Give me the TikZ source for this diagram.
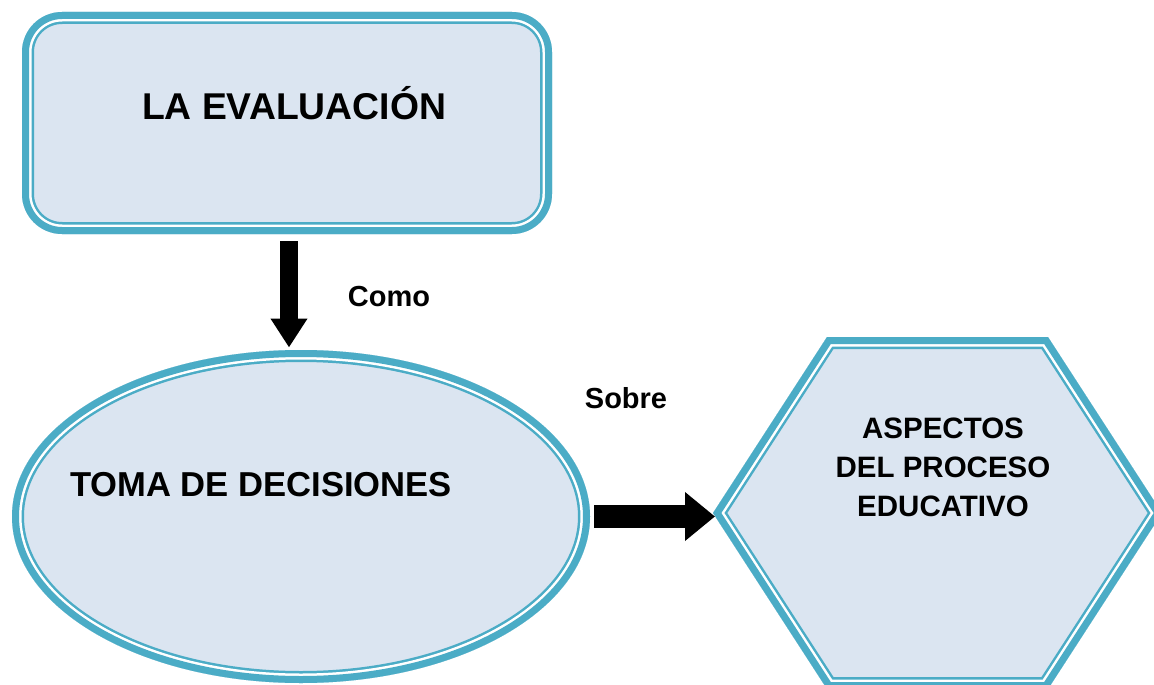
\documentclass[tikz,border=0pt]{standalone}
\usepackage{fontspec}
\setmainfont{Liberation Sans}
\usetikzlibrary{shapes.geometric,arrows.meta}
\definecolor{teal1}{HTML}{4BACC6}
\definecolor{bgfill}{HTML}{DBE5F1}
\tikzset{
  shapebox/.style={inner sep=0pt, outer sep=0pt, draw=none},
  lbl/.style={inner sep=0pt, anchor=base, font=\bfseries},
  blockarrow/.style={draw=black, line cap=butt},
}
\newcommand{\ringlayers}[1]{%
  \fill[bgfill] #1;
  \draw[teal1, line width=24pt] #1;
  \draw[white, line width=19pt] #1;
  \draw[teal1, line width=14pt] #1;
}
\begin{document}
\begin{tikzpicture}[x=1pt,y=-1pt]
\useasboundingbox (0,0) rectangle (1154,685);
\clip (0,0) rectangle (1154,685);
% nodes (geometry holders)
\node[shapebox, rectangle, minimum width=530pt, minimum height=222pt] (eval) at (287,123) {};
\node[shapebox, ellipse, minimum width=578pt, minimum height=332pt] (toma) at (301,516.5) {};
\node[shapebox, rectangle, minimum width=449pt, minimum height=352pt] (hex) at (937.5,513) {};
% rounded rectangle
\begin{scope}
  \clip[rounded corners=40pt] (eval.south west) rectangle (eval.north east);
  \ringlayers{[rounded corners=40pt] (eval.south west) rectangle (eval.north east)}
\end{scope}
% ellipse
\begin{scope}
  \clip (toma.center) ellipse [x radius=289pt, y radius=166.5pt];
  \ringlayers{(toma.center) ellipse [x radius=289pt, y radius=166.5pt]}
\end{scope}
% hexagon
\begin{scope}
  \clip (hex.west) -- ([xshift=114pt]hex.north west) -- ([xshift=-114pt]hex.north east) -- (hex.east) -- ([xshift=-114pt]hex.south east) -- ([xshift=114pt]hex.south west) -- cycle;
  \ringlayers{(hex.west) -- ([xshift=114pt]hex.north west) -- ([xshift=-114pt]hex.north east) -- (hex.east) -- ([xshift=-114pt]hex.south east) -- ([xshift=114pt]hex.south west) -- cycle}
\end{scope}
% texts
\node[lbl, font=\bfseries\fontsize{37.3}{40}\selectfont] (t1) at (294,119.3) {LA EVALUACIÓN};
\node[lbl, font=\bfseries\fontsize{34.6}{40}\selectfont] (t2) at (261,496.7) {TOMA DE DECISIONES};
\node[lbl, font=\bfseries\fontsize{29}{32}\selectfont] (como) at (389,306.7) {Como};
\node[lbl, font=\bfseries\fontsize{29}{32}\selectfont] (sobre) at (626,408.3) {Sobre};
\node[lbl, font=\bfseries\fontsize{29.5}{32}\selectfont] (h1) at (943,438.3) {ASPECTOS};
\node[lbl, font=\bfseries\fontsize{29.5}{32}\selectfont] (h2) at (943,477) {DEL PROCESO};
\node[lbl, font=\bfseries\fontsize{29.5}{32}\selectfont] (h3) at (943,516.7) {EDUCATIVO};
% connectors
\coordinate (a1s) at ([xshift=2pt,yshift=-7pt]eval.south);
\coordinate (a1e) at (a1s |- toma.north);
\draw[blockarrow, line width=18pt, -{Triangle[length=29pt,width=35pt]}, shorten >=3pt] (a1s) -- (a1e);
\coordinate (a2s) at ([xshift=4pt]toma.east);
\coordinate (a2e) at ([xshift=2pt]a2s -| hex.west);
\draw[blockarrow, line width=23pt, -{Triangle[length=30pt,width=47pt]}] (a2s) -- (a2e);
\end{tikzpicture}
\end{document}
